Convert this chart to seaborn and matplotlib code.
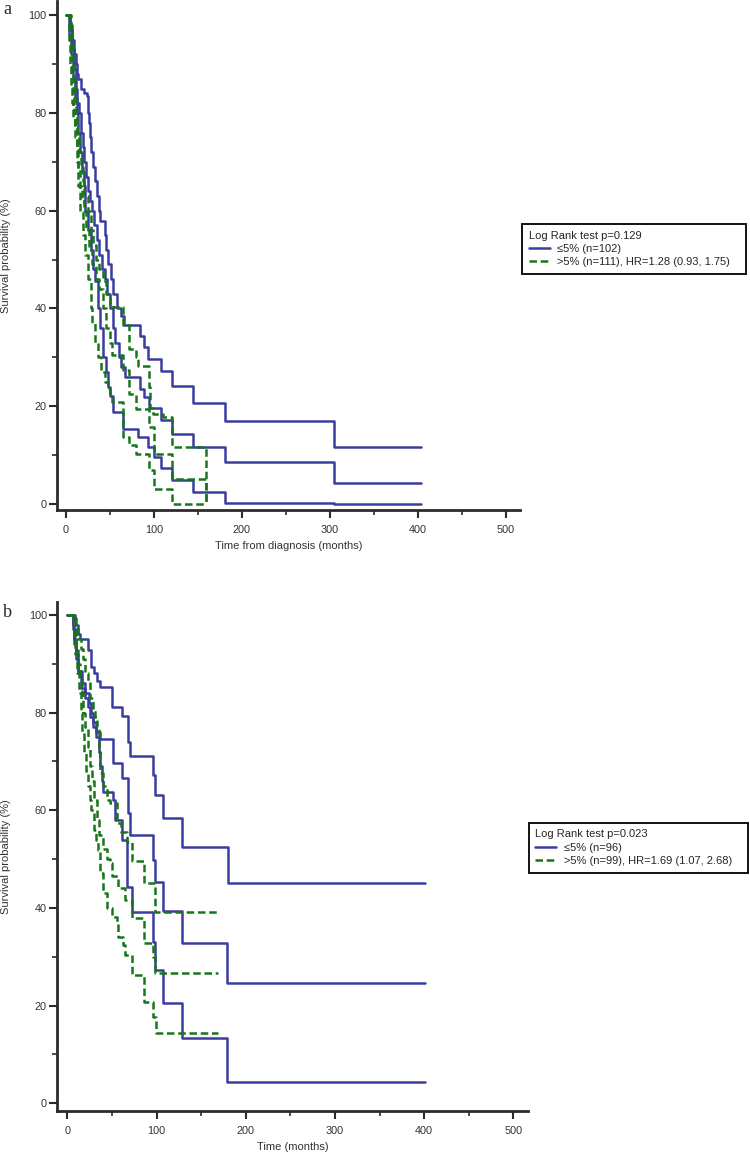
import pandas as pd
import seaborn as sns
import matplotlib.pyplot as plt
from matplotlib.lines import Line2D

# ---- panel a: time from diagnosis ----
a_blue_up_t = [0, 3, 5, 7, 9, 11, 13, 14, 17, 20, 24, 25, 26, 27, 29, 31, 33, 35, 37, 38.6, 44.3, 46, 48, 51, 54, 58, 63, 66, 84, 89, 93.6, 108, 121, 144, 181, 305, 403]
a_blue_up_s = [100, 100, 98, 95, 92, 90, 88, 87, 85, 84, 83.5, 80, 78, 75, 72, 69, 66, 63, 60, 58, 55, 52, 49, 46, 43, 40, 38.5, 36.7, 34.3, 32.1, 29.7, 27.2, 24.1, 20.7, 17.0, 11.7, 11.7]
a_blue_km_t = [0, 3, 5, 7, 9, 11, 13, 15, 17, 19, 21, 23, 25, 27, 30, 32, 35, 38, 41, 44, 47, 50, 53, 56, 60, 63, 66.8, 84, 89, 94.7, 108, 121, 144, 181, 305, 403]
a_blue_km_s = [100, 100, 97, 93, 89, 85, 82, 80, 76, 73, 70, 67, 64, 62, 60, 57, 54, 51, 48, 46, 43, 40, 36, 33, 30, 28, 26, 23.6, 21.9, 19.7, 17.1, 14.4, 11.7, 8.6, 4.4, 4.4]
a_blue_lo_t = [0, 3, 4, 6, 8, 10, 12, 14, 16, 18, 20, 22, 25, 28, 31, 33, 36.7, 39, 42, 45, 48, 50, 53.8, 65, 82, 93.6, 100, 108, 120, 144, 181, 305, 403]
a_blue_lo_s = [100, 100, 96, 92, 87, 83, 80, 76, 72, 68, 65, 60, 56, 52, 48, 45.7, 40, 36, 30, 27, 24, 22, 18.8, 15.4, 13.7, 11.6, 9.7, 7.3, 4.9, 2.4, 0.3, 0.1, 0.1]

a_green_up_t = [0, 5, 6, 7, 8, 9, 10, 11, 13, 15, 17, 19, 21, 25, 28, 31, 34, 38, 42, 46, 50, 53.8, 65, 72, 79.5, 82, 94.7, 96, 99, 110, 120.5, 159]
a_green_up_s = [100, 100, 97, 94, 90, 87, 84, 80, 76, 72, 69, 66, 63, 60, 56, 53, 50, 48, 45.7, 43, 41, 40.3, 36.7, 31.8, 30.1, 28.2, 24, 19.7, 18.5, 17.8, 11.7, 0]
a_green_km_t = [0, 4, 5, 6, 7, 8, 9, 10, 12, 14, 16, 18, 20, 23, 26, 30, 34, 38, 42, 46, 50, 52, 64.5, 72, 80, 94, 100, 120.5, 159]
a_green_km_s = [100, 100, 96, 92, 88, 84, 80, 77, 73, 69, 65, 62, 60, 56, 52, 49, 46, 44, 40, 36, 33, 30.4, 27.5, 22.6, 19.5, 15.8, 10.3, 5.2, 0]
a_green_lo_t = [0, 3, 4, 5, 6, 7, 8, 10, 12, 14, 16, 19, 22, 25, 28, 30, 33, 36, 40, 44, 48, 50, 52.6, 64.5, 72, 80, 94, 100, 120.5, 159]
a_green_lo_s = [100, 100, 95, 90, 86, 82, 79, 75, 70, 65, 60, 55, 51, 46, 40, 37, 33, 30, 27, 25, 23.5, 22.6, 20.9, 13.7, 12, 10.2, 6.9, 3.0, 0, 0]

# ---- panel b: time ----
b_blue_up_t = [0, 6, 9, 12, 14.2, 23.5, 27, 30, 33, 36.7, 49.6, 61, 68.4, 70.3, 95.7, 98.3, 107.6, 128.2, 179.8, 401]
b_blue_up_s = [100, 100, 98, 96, 95, 92.8, 89.4, 88, 86.5, 85.3, 81.2, 79.2, 74, 71, 67.2, 63.1, 58.4, 52.5, 45.0, 45.0]
b_blue_km_t = [0, 4, 6, 8, 10, 12.3, 17, 20, 24, 27, 29, 32, 36.7, 51.6, 61, 68.4, 70.3, 96.5, 98.3, 107.6, 128.2, 179.4, 401]
b_blue_km_s = [100, 100, 98, 95, 92, 88.4, 86, 84, 82, 80, 78, 76, 74.5, 69.6, 66.5, 59.4, 55.0, 49.8, 45.3, 39.4, 32.9, 24.7, 24.7]
b_blue_lo_t = [0, 4, 6, 8, 10, 12.3, 15, 19.8, 23.5, 26, 29, 32, 35, 37, 38.5, 40.4, 51.6, 53.5, 61, 67.3, 72.2, 96.5, 98.3, 107.6, 128.2, 179.4, 401]
b_blue_lo_s = [100, 100, 97, 94, 91, 88, 85, 82.9, 81.2, 79, 77, 75, 72, 69, 66, 63.8, 62, 58, 53.9, 44.2, 39.2, 33.1, 27.2, 20.6, 13.3, 4.4, 4.4]

b_green_up_t = [0, 8, 10, 12, 15, 18, 20, 23, 26, 29, 31, 33, 35, 36.7, 40, 44.2, 47.9, 55.4, 60, 66.6, 72.2, 86, 98.3, 169.3]
b_green_up_s = [100, 100, 97, 95, 93, 91, 88, 86, 83, 81, 79, 77, 72, 67.6, 65, 62.1, 61.4, 57.3, 55.5, 53.4, 49.6, 45.05, 39.1, 39.1]
b_green_km_t = [0, 6, 8, 10, 12, 14, 16, 18, 20, 23, 26, 28, 30, 33, 36, 40, 44, 47.9, 50, 57.2, 64.7, 72.2, 86, 96, 98.3, 169.3]
b_green_km_s = [100, 100, 97, 93, 90, 87, 84, 80, 77, 73, 69, 66, 62, 58, 55, 52, 50, 49.1, 46.5, 44, 41.6, 37.9, 32.8, 30, 26.7, 26.7]
b_green_lo_t = [0, 5, 7, 9, 11, 13, 15, 17, 19, 21, 23, 25, 27, 30, 32, 34.8, 36.7, 40.4, 44.2, 49.8, 55.4, 57.2, 62.8, 64.7, 72.2, 86, 96.4, 99, 169.3]
b_green_lo_s = [100, 100, 96, 92, 88, 84, 80, 76, 72, 68, 65, 62, 60, 56, 54, 51.9, 47.1, 43, 39.9, 38.2, 36.5, 34.1, 32.4, 30.4, 26.3, 20.8, 17.7, 14.3, 14.3]

BLUE = '#3a3d9e'
GREEN = '#17761a'
AXC = '#2b2b2b'

sns.set_style('ticks')
plt.rcParams['font.family'] = ['Liberation Sans', 'DejaVu Sans']

fig = plt.figure(figsize=(7.5, 11.53), dpi=100)
ax_a = fig.add_axes([0.076, 0.5577, 0.6173, 0.4414])
ax_b = fig.add_axes([0.0764, 0.0367, 0.6271, 0.4415])


def draw_curves(ax, blue, green):
    for t, s in blue:
        df = pd.DataFrame({'t': t, 's': s})
        sns.lineplot(data=df, x='t', y='s', ax=ax, estimator=None, sort=False,
                     drawstyle='steps-post', color=BLUE, lw=1.8)
    for t, s in green:
        df = pd.DataFrame({'t': t, 's': s})
        sns.lineplot(data=df, x='t', y='s', ax=ax, estimator=None, sort=False,
                     drawstyle='steps-post', color=GREEN, lw=1.8, dashes=(3, 1.5))


def style_axes(ax, xlim, ylim, xlabel):
    ax.set_xlim(*xlim)
    ax.set_ylim(*ylim)
    sns.despine(ax=ax)
    for side in ['left', 'bottom']:
        ax.spines[side].set_linewidth(2.0)
        ax.spines[side].set_color(AXC)
    ax.set_xticks([0, 100, 200, 300, 400, 500])
    ax.set_xticks([50, 150, 250, 350, 450], minor=True)
    ax.set_yticks([0, 20, 40, 60, 80, 100])
    ax.set_yticks([10, 30, 50, 70, 90], minor=True)
    ax.tick_params(which='major', length=6, width=1.5, color=AXC, labelsize=7.8, labelcolor='#333333')
    ax.tick_params(which='minor', length=3.5, width=1.2, color=AXC)
    ax.tick_params(axis='y', pad=1.5)
    ax.tick_params(axis='x', pad=5)
    ax.set_xlabel(xlabel, fontsize=8, color='#333333', labelpad=4)
    ax.set_ylabel('Survival probability (%)', fontsize=8, color='#333333')
    ax.yaxis.set_label_coords(-0.099, 0.5)


draw_curves(ax_a,
            [(a_blue_up_t, a_blue_up_s), (a_blue_km_t, a_blue_km_s), (a_blue_lo_t, a_blue_lo_s)],
            [(a_green_up_t, a_green_up_s), (a_green_km_t, a_green_km_s), (a_green_lo_t, a_green_lo_s)])
draw_curves(ax_b,
            [(b_blue_up_t, b_blue_up_s), (b_blue_km_t, b_blue_km_s), (b_blue_lo_t, b_blue_lo_s)],
            [(b_green_up_t, b_green_up_s), (b_green_km_t, b_green_km_s), (b_green_lo_t, b_green_lo_s)])

style_axes(ax_a, (-10.2, 516), (-1.22, 102.9), 'Time from diagnosis (months)')
style_axes(ax_b, (-11.2, 516), (-1.52, 102.7), 'Time (months)')


def add_legend(title, lab1, lab2, box):
    handles = [Line2D([], [], color=BLUE, lw=1.8),
               Line2D([], [], color=GREEN, lw=1.8, dashes=(3, 1.5))]
    leg = fig.legend(handles, [lab1, lab2], title=title, loc='upper left',
                     bbox_to_anchor=box, mode='expand', borderaxespad=0,
                     fontsize=8, title_fontsize=8, alignment='left',
                     fancybox=False, framealpha=1, edgecolor='black',
                     borderpad=0.6, labelspacing=0.3, handlelength=1.9,
                     handletextpad=0.66)
    leg.get_frame().set_linewidth(1.3)
    return leg


add_legend('Log Rank test p=0.129', '≤5% (n=102)', '>5% (n=111), HR=1.28 (0.93, 1.75)',
           (522 / 750, 1 - 274 / 1153, 224 / 750, 50 / 1153))
add_legend('Log Rank test p=0.023', '≤5% (n=96)', '>5% (n=99), HR=1.69 (1.07, 2.68)',
           (528.7 / 750, 1 - 872.7 / 1153, 219 / 750, 50 / 1153))

fig.text(0.004, 1 - 1 / 1153, 'a', fontsize=13, family='Liberation Serif', va='top')
fig.text(0.004, 1 - 616.7 / 1153, 'b', fontsize=13, family='Liberation Serif', va='baseline')

fig.savefig('out.png', dpi=100)
